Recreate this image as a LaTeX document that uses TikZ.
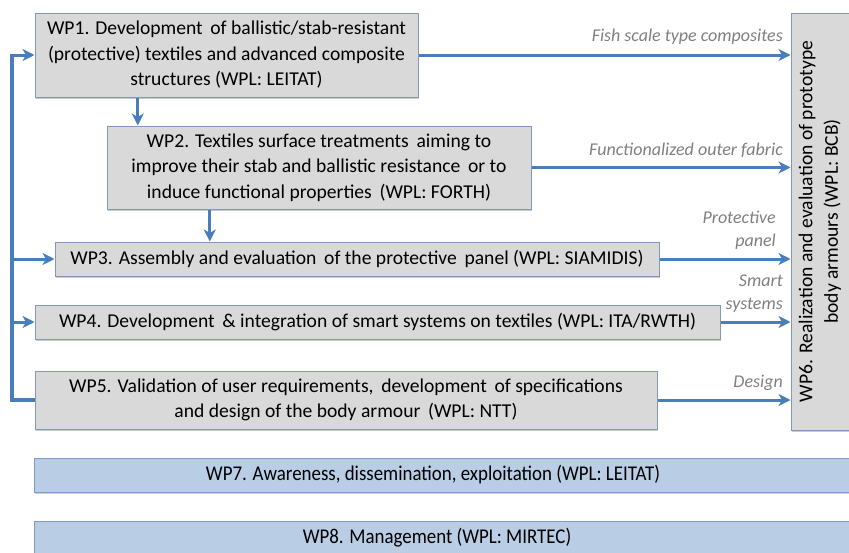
\documentclass[tikz,border=0pt]{standalone}
\usepackage{fontspec}
\setmainfont{Carlito}
\newfontfamily\condfont[FakeStretch=0.9]{Carlito}
\usetikzlibrary{arrows.meta,calc,shadows}
\definecolor{boxgray}{HTML}{D9D9D9}
\definecolor{boxline}{HTML}{8497B8}
\definecolor{bluefill}{HTML}{B9CDE5}
\definecolor{blueline}{HTML}{7F9CC6}
\definecolor{arrowblue}{HTML}{4A7EBB}
\definecolor{labelgray}{HTML}{7F7F7F}
\tikzset{
  wpbox/.style={draw=boxline, line width=1pt, fill=boxgray, inner sep=0pt, align=center,
    font=\fontsize{19.6}{25.5}\selectfont,
    drop shadow={shadow xshift=1.2pt, shadow yshift=-1.8pt, opacity=0.35, fill=black!60}},
  bluebox/.style={draw=blueline, line width=1pt, fill=bluefill, inner sep=0pt, align=center,
    font=\condfont\fontsize{21}{25}\selectfont,
    drop shadow={shadow xshift=0.8pt, shadow yshift=-1.8pt, opacity=0.3, fill=black!60}},
  arr/.style={draw=arrowblue, line width=3pt, -{Stealth[length=12pt,width=12pt,inset=3.5pt]}},
  fbline/.style={draw=arrowblue, line width=3.4pt},
  lbl/.style={text=labelgray, font=\itshape\fontsize{18}{23}\selectfont, align=right, anchor=east, inner sep=0pt}
}
\begin{document}
\begin{tikzpicture}[x=1pt,y=-1pt]
\useasboundingbox (0,0) rectangle (849,552);
% boxes
\node[wpbox, minimum width=383pt, minimum height=84pt] (wp1) at (226.5,55)
  {WP1. Development\, of ballistic/stab-resistant\\(protective) textiles and advanced composite\\structures (WPL: LEITAT)};
\node[wpbox, minimum width=424pt, minimum height=83pt] (wp2) at (319,167.5)
  {WP2. Textiles surface treatments\, aiming to\\improve their stab and ballistic resistance\, or to\\induce functional properties\, (WPL: FORTH)};
\node[wpbox, minimum width=604pt, minimum height=34pt] (wp3) at (357,259)
  {WP3. Assembly and evaluation\, of the protective\, panel (WPL: SIAMIDIS)};
\node[wpbox, minimum width=685pt, minimum height=34pt] (wp4) at (377.5,322)
  {WP4. Development\, \& integration of smart systems on textiles (WPL: ITA/RWTH)};
\node[wpbox, minimum width=622pt, minimum height=58pt] (wp5) at (346,400)
  {WP5. Validation of user requirements,\, development\, of specifications\\and design of the body armour\, (WPL: NTT)};
\node[wpbox, minimum width=417pt, minimum height=58pt, rotate=90] (wp6) at (820,221.5)
  {WP6. Realization and evaluation of prototype\\body armours (WPL: BCB)};
\node[bluebox, minimum width=830pt, minimum height=34pt] (wp7) at (449,475)
  {};
\node[font=\condfont\fontsize{21}{25}\selectfont, inner sep=0pt] (wp7t) at (433,475)
  {WP7. Awareness, dissemination, exploitation (WPL: LEITAT)};
\node[bluebox, minimum width=830pt, minimum height=40pt] (wp8) at (449,541)
  {};
\node[font=\condfont\fontsize{21}{25}\selectfont, inner sep=0pt] (wp8t) at (437,538)
  {WP8. Management (WPL: MIRTEC)};
% vertical arrows
\coordinate (a12) at ($(wp1.south west)!0.269!(wp1.south east)$);
\draw[arr] (a12) -- (a12 |- wp2.north);
\coordinate (a23) at ($(wp2.south west)!0.243!(wp2.south east)$);
\draw[arr] (a23) -- (a23 |- wp3.north);
% feedback line
\coordinate (lx) at (12,0);
\draw[fbline] (wp5.west) -- (lx |- wp5.west) -- (lx |- wp1.west);
\draw[arr] ([xshift=-1.7pt]lx |- wp1.west) -- (wp1.west);
\draw[arr] (lx |- wp3.west) -- (wp3.west);
\draw[arr] (lx |- wp4.west) -- (wp4.west);
% arrows to WP6
\draw[arr] (wp1.east) -- (wp1.east -| wp6.north);
\draw[arr] (wp2.east) -- (wp2.east -| wp6.north);
\draw[arr] (wp3.east) -- (wp3.east -| wp6.north);
\draw[arr] (wp4.east) -- (wp4.east -| wp6.north);
\draw[arr] (wp5.east) -- (wp5.east -| wp6.north);
% labels
\node[lbl] (l1) at (783,37) {Fish scale type composites};
\node[lbl] (l2) at (783,150) {Functionalized outer fabric};
\node[lbl] (l3) at (776,230) {Protective\\panel};
\node[lbl] (l4) at (783,294) {Smart\\systems};
\node[lbl] (l5) at (783,383) {Design};
\end{tikzpicture}
\end{document}
